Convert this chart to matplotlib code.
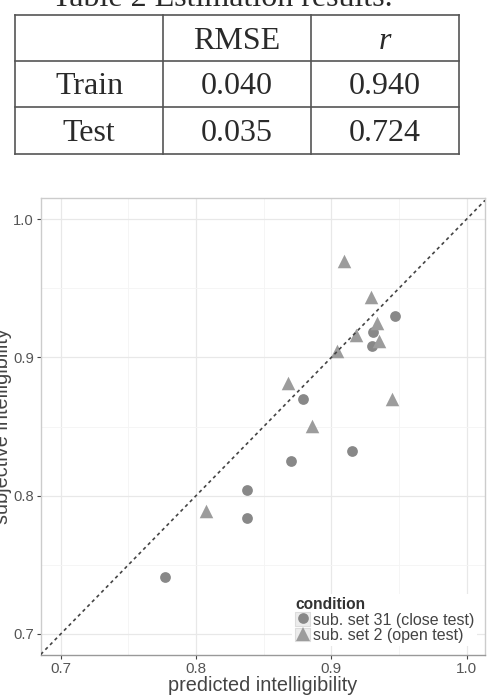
import matplotlib
matplotlib.use("Agg")
import matplotlib.pyplot as plt
from matplotlib.lines import Line2D
from matplotlib.patches import Rectangle
from matplotlib.legend_handler import HandlerTuple
from matplotlib.ticker import MultipleLocator

# ---------------- data ----------------
table_title = "Table 2 Estimation results."
table_columns = ["", "RMSE", "r"]
table_rows = ["Train", "Test"]
table_rmse = ["0.040", "0.035"]
table_r = ["0.940", "0.724"]

closed_x = [0.777, 0.838, 0.838, 0.870, 0.9155, 0.879, 0.947, 0.930, 0.931]
closed_y = [0.741, 0.804, 0.784, 0.825, 0.832, 0.870, 0.930, 0.908, 0.9185]
open_x = [0.909, 0.929, 0.918, 0.904, 0.9335, 0.935, 0.868, 0.945, 0.886, 0.807]
open_y = [0.970, 0.9436, 0.9165, 0.9048, 0.9245, 0.9118, 0.8816, 0.870, 0.8505, 0.789]
series_labels = ["sub. set 31 (close test)", "sub. set 2 (open test)"]
legend_title = "condition"
x_label = "predicted intelligibility"
y_label = "subjective intelligibility"
ticks = [0.7, 0.8, 0.9, 1.0]

W, H = 488, 695
fig = plt.figure(figsize=(W / 100, H / 100), dpi=100)


def fx(px):
    return px / W


def fy(py):
    return 1 - py / H


# ---------------- table ----------------
serif = "Liberation Serif"
tfs = 23
em_px = tfs * 100 / 72
cap_px = 0.662 * em_px
line_col = "#555555"
txt_col = "#2a2a2a"
row_edges = [15.3, 60.7, 107.0, 153.7]
col_edges = [15.0, 163.3, 310.7, 459.0]
for yy in row_edges:
    fig.add_artist(Line2D([fx(col_edges[0]), fx(col_edges[-1])], [fy(yy), fy(yy)],
                          transform=fig.transFigure, color=line_col, lw=1.2))
for xx in col_edges:
    fig.add_artist(Line2D([fx(xx), fx(xx)], [fy(row_edges[0]), fy(row_edges[-1])],
                          transform=fig.transFigure, color=line_col, lw=1.2))

cells = [table_columns] + [[table_rows[i], table_rmse[i], table_r[i]] for i in range(len(table_rows))]
for ri, row in enumerate(cells):
    yc = (row_edges[ri] + row_edges[ri + 1]) / 2
    base = yc + cap_px / 2
    for ci, val in enumerate(row):
        if not val:
            continue
        xc = (col_edges[ci] + col_edges[ci + 1]) / 2
        style = "italic" if (ri == 0 and val == "r") else "normal"
        fig.text(fx(xc), fy(base), val, ha="center", va="baseline", family=serif,
                 fontsize=tfs, color=txt_col, fontstyle=style)

fig.text(fx(52), fy(6), table_title, ha="left", va="baseline", family=serif,
         fontsize=tfs, color=txt_col)

# ---------------- scatter ----------------
plt.rcParams["font.family"] = ["Liberation Sans", "DejaVu Sans"]
left, right, top, bottom = 40.7, 485.0, 198.0, 655.0
ax = fig.add_axes([fx(left), fy(bottom), fx(right) - fx(left), (bottom - top) / H])
ax.set_facecolor("white")

c_circ = "#888888"
c_tri = "#9c9c9c"
ax.scatter(closed_x, closed_y, marker="o", s=60, color=c_circ, linewidths=0, zorder=3)
ax.scatter(open_x, open_y, marker="^", s=95, color=c_tri, linewidths=0, zorder=3)

ax.axline((ticks[0], ticks[0]), (ticks[-1], ticks[-1]), color="#444444", lw=1.2,
          linestyle=(0, (2, 2)), zorder=4)

ax.set_xlim(0.6852, 1.0135)
ax.set_ylim(0.6848, 1.0152)
ax.set_xticks(ticks)
ax.set_yticks(ticks)
ax.set_xticklabels([f"{t:.1f}" for t in ticks])
ax.set_yticklabels([f"{t:.1f}" for t in ticks])
ax.xaxis.set_minor_locator(MultipleLocator(0.05))
ax.yaxis.set_minor_locator(MultipleLocator(0.05))
ax.grid(which="major", color="#e8e8e8", lw=0.9, zorder=0)
ax.grid(which="minor", color="#f4f4f4", lw=0.6, zorder=0)
ax.set_axisbelow(True)
ax.tick_params(which="major", length=3, width=0.8, color="#444444", labelsize=11,
               labelcolor="#555555", pad=1.8)
ax.tick_params(axis="y", which="major", labelsize=10.6)
ax.tick_params(which="minor", length=0)
for side, sp in ax.spines.items():
    sp.set_color("#cccccc")
    sp.set_linewidth(1.0)
ax.spines["bottom"].set_color("#999999")

fig.text(fx((left + right) / 2), fy(691), x_label, ha="center", va="baseline",
         fontsize=14.3, color="#444444")
fig.text(fx(8.5), fy((top + bottom) / 2), y_label, ha="center", va="baseline",
         rotation=90, rotation_mode="anchor", fontsize=14.3, color="#444444")

key_face = "#ececec"
key_edge = "#dcdcdc"
h1 = (Rectangle((0, 0), 1, 1, facecolor=key_face, edgecolor=key_edge, lw=0.8),
      Line2D([], [], marker="o", ls="", color=c_circ, markersize=7.7, markeredgewidth=0))
h2 = (Rectangle((0, 0), 1, 1, facecolor=key_face, edgecolor=key_edge, lw=0.8),
      Line2D([], [], marker="^", ls="", color=c_tri, markersize=9.5, markeredgewidth=0))
leg = ax.legend([h1, h2], series_labels, title=legend_title, loc="upper left",
                bbox_to_anchor=(fx(292), fy(594)), bbox_transform=fig.transFigure,
                handler_map={tuple: HandlerTuple(ndivide=1, pad=0)},
                frameon=True, framealpha=1, facecolor="white", edgecolor="none",
                fancybox=False, fontsize=11.5, alignment="left",
                title_fontproperties={"weight": "bold", "size": 11.2},
                handlelength=0.95, handleheight=0.95, handletextpad=0.15,
                labelspacing=0.0, borderpad=0.2, borderaxespad=0)
for t in leg.get_texts():
    t.set_color("#444444")
leg.get_title().set_color("#333333")

fig.savefig("out.png", dpi=100)
